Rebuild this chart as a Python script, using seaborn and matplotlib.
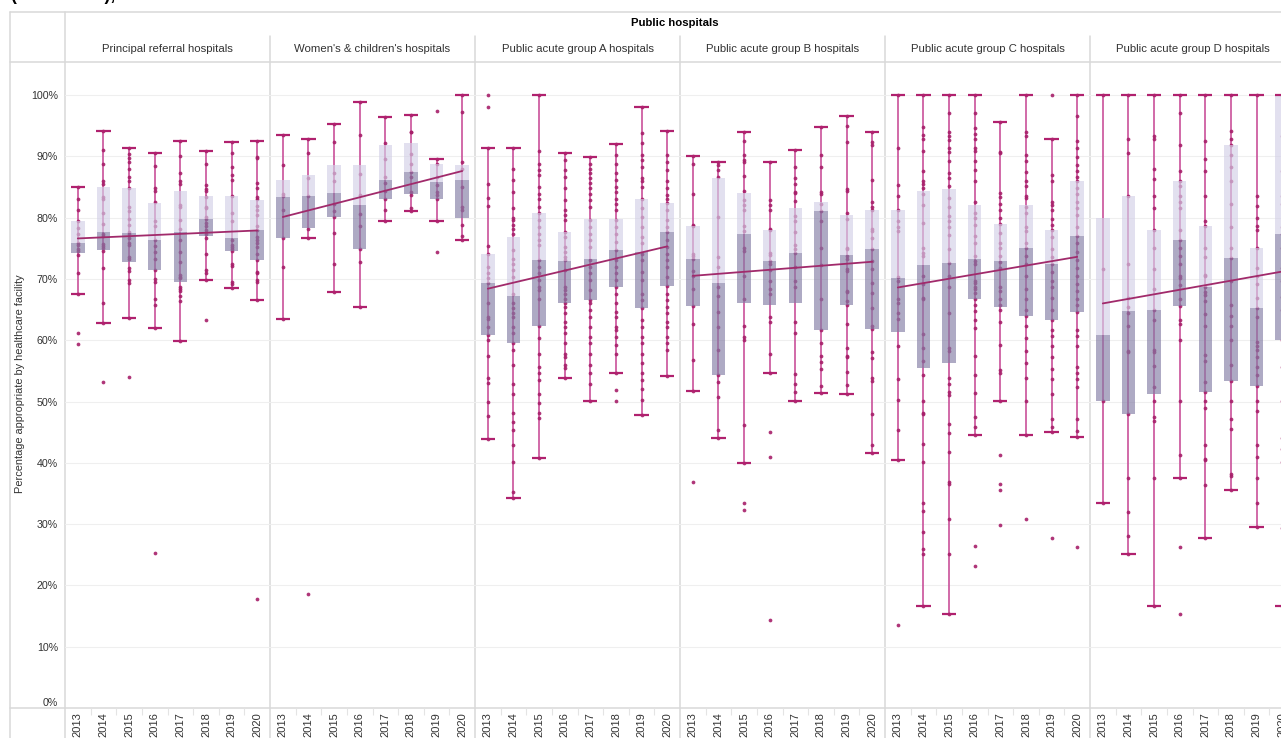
import numpy as np
import pandas as pd
import matplotlib
matplotlib.use("Agg")
import matplotlib.pyplot as plt
import seaborn as sns

# ---------------------------------------------------------------- data
years = ["2013", "2014", "2015", "2016", "2017", "2018", "2019", "2020"]
panels = [
    "Principal referral hospitals",
    "Women's & children's hospitals",
    "Public acute group A hospitals",
    "Public acute group B hospitals",
    "Public acute group C hospitals",
    "Public acute group D hospitals",
]

# box-plot statistics (percent), one row per peer group, one value per year
whisker_high = [
    [85.0, 94.2, 91.3, 90.5, 92.5, 90.9, 92.4, 92.5],
    [93.5, 92.8, 95.2, 98.9, 96.4, 96.8, 89.5, 100.0],
    [91.3, 91.3, 100.0, 90.6, 89.9, 92.0, 98.0, 94.2],
    [90.0, 89.0, 94.0, 89.0, 91.1, 94.8, 96.6, 94.0],
    [100.0, 100.0, 100.0, 100.0, 95.6, 100.0, 92.9, 100.0],
    [100.0, 100.0, 100.0, 100.0, 100.0, 100.0, 100.0, 100.0],
]
upper_quartile = [
    [79.4, 85.0, 84.8, 82.4, 84.3, 83.5, 83.6, 82.8],
    [86.2, 87.0, 88.5, 88.5, 91.9, 92.1, 88.7, 88.5],
    [74.0, 76.9, 80.8, 77.7, 79.8, 79.8, 83.1, 82.4],
    [78.6, 86.5, 84.0, 77.9, 81.5, 82.5, 80.4, 81.2],
    [81.2, 84.3, 84.6, 82.1, 79.0, 82.1, 78.0, 85.9],
    [80.0, 83.5, 77.9, 85.9, 78.7, 91.8, 75.1, 100.0],
]
median = [
    [75.9, 77.6, 77.5, 76.4, 77.7, 79.7, 76.6, 77.9],
    [83.3, 83.6, 84.0, 82.1, 86.1, 87.4, 85.8, 86.1],
    [69.3, 67.2, 73.1, 73.0, 73.2, 74.7, 74.4, 77.7],
    [73.2, 69.4, 77.3, 72.9, 74.2, 81.0, 73.9, 74.8],
    [70.1, 72.2, 72.6, 73.2, 73.0, 75.1, 72.4, 77.0],
    [60.8, 64.8, 65.0, 76.4, 68.7, 73.4, 65.2, 77.3],
]
lower_quartile = [
    [74.3, 74.7, 72.7, 71.5, 69.5, 77.0, 74.5, 73.1],
    [76.6, 78.3, 80.1, 74.8, 83.1, 83.9, 83.0, 80.0],
    [60.9, 59.6, 62.3, 66.0, 66.6, 68.6, 65.2, 68.8],
    [65.5, 54.4, 66.0, 65.7, 66.0, 61.6, 65.8, 61.9],
    [61.3, 55.5, 56.2, 66.8, 65.4, 64.0, 63.3, 64.6],
    [50.1, 47.9, 51.3, 65.6, 51.6, 53.3, 52.6, 60.1],
]
whisker_low = [
    [67.5, 62.8, 63.7, 62.0, 59.9, 69.8, 68.5, 66.6],
    [63.5, 76.7, 67.9, 65.4, 79.5, 81.0, 79.4, 76.3],
    [43.9, 34.3, 40.8, 53.8, 50.1, 54.7, 47.8, 54.2],
    [51.7, 44.1, 39.9, 54.6, 50.1, 51.4, 51.2, 41.6],
    [40.4, 16.7, 15.4, 44.5, 50.1, 44.5, 45.1, 44.2],
    [33.4, 25.1, 16.7, 37.5, 27.8, 35.5, 29.5, 16.7],
]

# linear trend, value at 2013 and at 2020
trend_start = [76.6, 80.1, 68.4, 70.5, 68.6, 66.0]
trend_end = [77.9, 87.6, 75.3, 72.8, 73.6, 71.2]

# individual hospitals, per year
points_principal = [
    [85.0, 83.0, 81.2, 79.4, 78.3, 77.4, 75.9, 75.5, 74.9, 74.5, 73.9, 70.9, 67.5, 61.2, 59.3],
    [94.2, 91.1, 88.8, 85.9, 85.5, 83.4, 83.1, 80.8, 79.0, 77.4, 77.0, 75.7, 75.4, 75.0, 74.6, 71.7, 66.1, 62.8, 53.2],
    [91.3, 90.4, 89.7, 89.0, 88.0, 86.7, 85.9, 84.8, 81.8, 81.0, 79.7, 78.8, 77.6, 77.4, 76.7, 75.9, 75.5, 73.6, 73.2, 71.7, 71.3, 69.8, 69.3, 63.7, 54.0],
    [90.5, 88.4, 84.8, 84.3, 82.5, 79.5, 78.7, 76.3, 75.4, 74.4, 73.2, 71.5, 70.0, 69.5, 66.8, 65.7, 62.0, 25.3],
    [92.5, 90.1, 87.3, 85.9, 85.5, 82.0, 81.8, 79.6, 78.1, 76.3, 74.4, 72.8, 70.7, 70.3, 70.1, 68.7, 68.3, 68.0, 67.2, 66.4, 59.9],
    [90.9, 88.8, 85.3, 84.7, 84.4, 83.4, 81.8, 81.5, 80.1, 79.7, 79.2, 78.6, 78.0, 77.4, 76.6, 74.1, 71.4, 71.0, 69.8, 63.3],
    [92.4, 90.5, 88.3, 86.9, 86.1, 83.6, 80.7, 79.5, 76.3, 75.5, 75.2, 74.9, 74.5, 72.5, 72.1, 69.5, 69.1, 68.5],
    [92.5, 89.9, 89.7, 85.6, 84.8, 83.4, 83.1, 81.9, 81.2, 80.4, 78.6, 77.9, 76.9, 76.3, 75.8, 75.2, 74.0, 73.1, 71.2, 70.9, 69.8, 69.5, 66.6, 17.8],
]
points_womens = [
    [93.5, 88.5, 83.9, 83.5, 81.3, 76.6, 72.0, 63.5],
    [92.8, 90.6, 86.4, 83.6, 78.2, 76.7, 18.6],
    [95.2, 92.4, 87.2, 85.9, 82.2, 81.0, 80.1, 77.5, 72.5, 67.9],
    [98.9, 93.5, 87.1, 83.7, 80.6, 78.7, 74.8, 72.8, 65.4],
    [96.4, 92.1, 89.6, 86.6, 85.6, 84.3, 83.0, 81.2, 79.5],
    [96.8, 94.0, 93.9, 90.3, 88.8, 87.5, 86.7, 84.1, 83.7, 81.5, 81.0],
    [97.4, 89.5, 88.7, 86.6, 85.3, 84.2, 83.7, 83.0, 79.4, 74.4],
    [100.0, 97.2, 89.0, 88.0, 85.0, 81.8, 81.2, 78.8, 77.0, 76.3],
]
points_group_a = [
    [100.0, 98.1, 91.3, 85.4, 83.2, 81.9, 75.4, 74.0, 72.0, 70.9, 70.1, 69.3, 66.0, 63.8, 63.4, 62.2,
     60.9, 60.0, 57.5, 53.8, 53.0, 50.0, 47.7, 43.9],
    [91.3, 88.0, 86.1, 84.2, 81.6, 79.9, 79.6, 78.8, 78.2, 77.4, 74.7, 73.3, 72.5, 71.4, 70.3, 67.6,
     66.0, 65.2, 64.4, 63.8, 62.2, 61.1, 59.5, 58.4, 55.9, 52.9, 51.3, 48.2, 46.7, 45.3, 42.9, 40.2, 35.2, 34.3],
    [100.0, 90.9, 88.8, 87.8, 87.0, 85.0, 83.9, 83.1, 81.8, 80.8, 79.6, 78.5, 77.4, 76.3, 75.5, 73.1,
     72.0, 70.9, 69.8, 68.7, 68.2, 66.8, 62.3, 60.3, 57.8, 55.6, 54.6, 53.5, 51.3, 49.7, 48.2, 47.3, 40.8],
    [90.6, 89.4, 87.8, 86.7, 84.8, 82.9, 81.2, 80.4, 79.6, 77.7, 76.9, 75.2, 74.4, 73.6, 73.1, 71.4,
     68.7, 68.2, 67.6, 66.8, 66.0, 65.4, 64.4, 63.0, 62.2, 61.1, 59.5, 57.8, 57.3, 55.9, 55.4, 53.8],
    [89.9, 88.8, 88.0, 87.2, 86.4, 85.6, 84.8, 83.9, 82.9, 81.8, 79.6, 78.5, 77.4, 76.3, 75.2, 73.1,
     72.0, 70.9, 69.8, 68.2, 66.6, 66.0, 64.9, 63.8, 62.2, 60.5, 59.5, 57.8, 55.9, 54.6, 52.9, 50.1],
    [92.0, 90.2, 88.8, 87.2, 86.1, 85.0, 84.2, 83.1, 82.3, 81.2, 79.6, 78.5, 77.4, 76.1, 74.7, 73.1,
     72.0, 70.9, 69.8, 68.6, 67.6, 66.0, 64.6, 63.8, 62.2, 61.6, 60.5, 59.2, 57.8, 54.7, 51.8, 50.1],
    [98.0, 93.8, 92.1, 90.2, 89.4, 88.3, 86.4, 85.9, 85.0, 83.1, 81.5, 80.1, 78.5, 76.9, 75.8, 74.1,
     73.1, 71.2, 69.8, 67.6, 66.5, 65.2, 63.3, 62.2, 60.5, 59.5, 57.8, 56.2, 54.6, 53.5, 52.1, 50.2, 47.8],
    [94.2, 90.2, 89.1, 87.8, 85.9, 84.8, 83.7, 83.1, 82.4, 81.2, 79.6, 78.5, 77.7, 76.3, 75.2, 74.1,
     73.1, 72.0, 70.3, 68.8, 67.6, 66.5, 65.4, 64.4, 63.0, 62.2, 60.5, 59.5, 58.4, 54.2],
]
points_group_b = [
    [90.0, 88.8, 83.9, 78.8, 78.6, 74.1, 73.8, 73.2, 71.3, 70.4, 68.3, 65.5, 62.6, 56.8, 51.7, 36.8],
    [89.0, 88.6, 87.8, 86.7, 80.1, 73.5, 71.9, 68.7, 67.2, 64.6, 62.1, 58.4, 54.4, 53.1, 50.8, 45.3, 44.1],
    [94.0, 92.5, 90.2, 89.4, 89.1, 86.8, 84.4, 82.9, 82.0, 81.3, 78.6, 77.8, 75.1, 74.6, 70.5, 66.7,
     62.3, 60.5, 60.1, 46.1, 39.9, 33.5, 32.3],
    [89.0, 82.9, 82.0, 81.2, 78.1, 77.9, 74.2, 73.9, 73.0, 72.4, 71.4, 69.7, 68.3, 67.5, 63.8, 62.9,
     57.8, 54.6, 45.1, 40.9, 14.3],
    [91.1, 88.2, 86.4, 85.4, 84.2, 84.0, 82.7, 80.2, 79.4, 77.6, 75.5, 74.8, 74.3, 72.0, 69.6, 68.7,
     62.9, 61.1, 54.5, 52.9, 51.6, 50.1],
    [94.8, 90.2, 88.2, 84.2, 83.9, 82.2, 81.0, 79.5, 75.1, 72.3, 66.8, 61.6, 59.6, 57.4, 56.4, 55.3, 52.5, 51.4],
    [96.6, 95.0, 92.4, 84.7, 84.4, 80.8, 79.8, 75.1, 74.8, 73.8, 73.2, 71.6, 71.3, 68.1, 67.9, 66.4,
     65.8, 62.6, 58.8, 57.5, 57.2, 54.8, 52.7, 51.2],
    [94.0, 92.4, 91.8, 86.2, 82.5, 81.7, 81.3, 78.1, 77.8, 76.6, 74.8, 72.9, 71.6, 69.3, 67.7, 65.2,
     62.3, 61.9, 58.1, 57.1, 53.9, 53.3, 47.9, 42.9, 41.6],
]
points_group_c = [
    [100.0, 91.4, 85.3, 83.5, 81.2, 79.5, 78.5, 77.8, 70.3, 69.7, 66.8, 66.0, 64.5, 63.4, 59.1, 53.6,
     50.2, 45.3, 40.4, 13.5],
    [100.0, 94.8, 93.4, 92.9, 90.8, 87.6, 85.9, 85.5, 84.9, 83.9, 82.0, 79.2, 75.1, 74.3, 73.8, 70.4,
     69.1, 66.9, 66.7, 61.0, 58.8, 56.6, 54.3, 50.1, 48.2, 47.9, 43.0, 40.1, 33.4, 32.1, 28.7, 26.0, 25.2, 16.7],
    [100.0, 97.0, 93.9, 93.3, 92.6, 91.3, 90.7, 89.2, 87.2, 86.5, 85.1, 83.2, 81.8, 80.2, 79.5, 78.5,
     77.1, 74.8, 72.6, 70.4, 68.7, 64.5, 58.8, 58.3, 53.9, 52.9, 51.6, 51.0, 46.3, 44.9, 41.8, 36.8,
     36.5, 30.9, 25.2, 15.4],
    [100.0, 97.0, 94.6, 93.6, 92.9, 91.3, 90.9, 89.2, 87.8, 85.9, 82.5, 80.8, 80.0, 78.8, 77.0, 75.9,
     73.8, 73.0, 72.4, 69.7, 69.4, 68.7, 68.3, 67.7, 66.8, 65.7, 64.7, 63.3, 62.0, 57.5, 54.3, 51.4,
     47.5, 45.8, 44.5, 26.4, 23.2],
    [95.6, 90.7, 90.6, 84.0, 83.3, 82.2, 81.2, 80.0, 79.0, 77.5, 75.8, 75.1, 73.8, 72.8, 71.8, 68.7,
     68.1, 66.7, 65.7, 65.0, 62.9, 59.2, 55.1, 54.6, 50.1, 41.3, 36.5, 35.5, 29.9],
    [100.0, 93.9, 93.3, 90.2, 89.2, 87.4, 85.9, 85.2, 83.5, 83.2, 81.8, 80.8, 78.5, 77.8, 75.8, 75.1,
     73.8, 72.4, 70.4, 68.4, 66.7, 65.0, 64.0, 62.3, 60.3, 58.2, 56.3, 53.9, 50.1, 44.5, 30.9],
    [100.0, 92.9, 86.9, 85.9, 82.5, 82.0, 81.2, 79.8, 78.8, 78.0, 76.8, 74.8, 73.6, 72.4, 71.1, 69.7,
     68.7, 66.9, 65.0, 63.3, 61.7, 60.7, 59.1, 57.2, 55.3, 53.6, 51.2, 47.2, 45.9, 45.1, 27.8],
    [100.0, 96.6, 92.5, 91.3, 89.9, 88.6, 87.6, 86.7, 85.9, 84.9, 83.9, 82.5, 81.5, 80.5, 78.5, 77.0,
     75.8, 74.4, 73.1, 71.8, 70.4, 69.1, 68.1, 66.7, 65.7, 64.6, 61.7, 60.7, 59.0, 55.6, 54.6, 53.6,
     52.3, 47.2, 45.2, 44.2, 26.3],
]
points_group_d = [
    [100.0, 71.6, 50.1, 33.4],
    [100.0, 92.9, 90.6, 83.5, 72.4, 66.9, 65.4, 64.4, 62.3, 58.3, 58.0, 47.9, 37.6, 31.9, 28.0, 25.1],
    [100.0, 93.3, 92.9, 87.9, 86.3, 83.5, 81.5, 77.9, 75.0, 71.6, 68.3, 65.0, 63.3, 58.4, 58.1, 55.8,
     52.4, 50.1, 47.4, 46.8, 37.6, 16.7],
    [100.0, 97.0, 91.8, 87.6, 85.9, 85.1, 83.5, 82.5, 81.5, 77.9, 76.4, 75.1, 73.8, 72.4, 70.4, 70.1,
     69.0, 66.8, 65.6, 63.3, 62.7, 60.1, 50.1, 41.3, 37.5, 26.2, 15.4],
    [100.0, 92.5, 89.6, 87.6, 83.5, 79.5, 78.7, 75.1, 73.5, 70.7, 70.4, 68.7, 67.8, 67.4, 66.4, 64.2,
     62.3, 57.6, 56.6, 53.1, 51.6, 50.1, 48.9, 42.9, 40.7, 40.4, 36.3, 27.8],
    [100.0, 94.2, 92.9, 91.8, 90.2, 88.2, 85.9, 82.2, 78.5, 75.1, 73.4, 69.7, 65.7, 64.0, 62.3, 60.1,
     55.9, 53.3, 50.1, 47.2, 45.5, 38.1, 37.8, 35.5],
    [100.0, 83.5, 81.9, 80.0, 78.6, 77.9, 75.0, 71.8, 70.4, 69.1, 66.9, 65.2, 63.8, 59.7, 59.0, 58.4,
     57.2, 55.6, 54.4, 52.6, 50.1, 48.4, 42.9, 40.9, 37.6, 33.5, 29.5],
    [100.0, 93.3, 87.6, 83.5, 82.2, 78.5, 77.3, 75.1, 71.8, 69.7, 67.0, 65.0, 60.1, 55.6, 50.1, 44.0,
     42.2, 40.1, 29.3, 16.7],
]
panel_points = [points_principal, points_womens, points_group_a,
                points_group_b, points_group_c, points_group_d]

y_ticks = list(range(0, 101, 10))

# ---------------------------------------------------------------- style
sns.set_theme(style="white")
plt.rcParams["font.family"] = ["Liberation Sans", "DejaVu Sans"]

MAGENTA = "#b0216e"
WHISKER = "#c9509a"
DOT = "#a61f69"
BOX_DARK = "#837da5"
BOX_LIGHT = "#d3d0e7"
TREND = "#a12a6b"
FRAME = "#d8d8d8"
GRID = "#efefef"
TEXT = "#333333"

W, H = 1281, 738
fig = plt.figure(figsize=(W / 100, H / 100), dpi=100)

# pixel-space canvas for the table frame and headers
bg = fig.add_axes([0, 0, 1, 1], zorder=0)
bg.set_xlim(0, W)
bg.set_ylim(H, 0)
bg.axis("off")

plot_top, plot_bottom = 62, 708
axis_left = 65
panel_w = 205
panel_lefts = [axis_left + i * panel_w for i in range(len(panels))]

lw_frame = 1.1
bg.plot([10, W], [12, 12], color=FRAME, lw=lw_frame)
bg.plot([10, 10], [12, H], color=FRAME, lw=lw_frame)
bg.plot([axis_left, axis_left], [12, H], color=FRAME, lw=lw_frame)
bg.plot([10, W], [plot_top, plot_top], color=FRAME, lw=lw_frame)
bg.plot([10, W], [plot_bottom, plot_bottom], color=FRAME, lw=lw_frame)
for x0 in panel_lefts[1:]:
    bg.plot([x0, x0], [36, H], color=FRAME, lw=lw_frame)

bg.text(10, 0.5, "(2013–2020),", fontsize=12.7, fontweight="bold",
        ha="left", va="baseline", color="black", clip_on=False)
bg.text((axis_left + W) / 2 + 2, 23.5, "Public hospitals", fontsize=8.2,
        fontweight="bold", ha="center", va="center", color="black")
for name, x0 in zip(panels, panel_lefts):
    bg.text(x0 + panel_w / 2, 49, name, fontsize=8.2, ha="center",
            va="center", color=TEXT)
bg.text(20, 384, "Percentage appropriate by healthcare facility", rotation=90,
        fontsize=7.9, ha="center", va="center", color=TEXT)

y_max = 100 + (95 - plot_top) * (100 / (plot_bottom - 95))
box_w = 0.53
cap_half = 0.28

for i, (name, x0) in enumerate(zip(panels, panel_lefts)):
    ax = fig.add_axes([x0 / W, (H - plot_bottom) / H, panel_w / W,
                       (plot_bottom - plot_top) / H], zorder=1)
    ax.patch.set_alpha(0)

    for v in y_ticks[1:]:
        ax.axhline(v, color=GRID, lw=0.8, zorder=0)

    rows = [(yr, v) for yr, vals in zip(years, panel_points[i]) for v in vals]
    df = pd.DataFrame(rows, columns=["year", "value"])
    sns.stripplot(data=df, x="year", y="value", order=years, jitter=False,
                  size=2.7, color=DOT, linewidth=0, alpha=0.9, zorder=2, ax=ax)

    for j in range(len(years)):
        lo, q1, md, q3, hi = (whisker_low[i][j], lower_quartile[i][j], median[i][j],
                              upper_quartile[i][j], whisker_high[i][j])
        ax.vlines(j, lo, hi, color=WHISKER, lw=1.2, zorder=1)
        ax.bar(j, md - q1, bottom=q1, width=box_w, color=BOX_DARK, alpha=0.65,
               linewidth=0, zorder=3)
        ax.bar(j, q3 - md, bottom=md, width=box_w, color=BOX_LIGHT, alpha=0.65,
               linewidth=0, zorder=3)
        ax.hlines([lo, hi], j - cap_half, j + cap_half, color=MAGENTA, lw=1.6, zorder=4)

    ax.plot([0, len(years) - 1], [trend_start[i], trend_end[i]], color=TREND,
            lw=1.3, zorder=5)

    ax.set_xlim(-0.5, len(years) - 0.5)
    ax.set_ylim(0, y_max)
    ax.set_xlabel("")
    ax.set_ylabel("")
    for s in ax.spines.values():
        s.set_visible(False)

    ax.set_xticks(range(len(years)))
    ax.set_xticklabels(years, rotation=90)
    ax.set_xticks(np.arange(0.5, len(years) - 1, 1), minor=True)
    ax.tick_params(axis="x", which="major", length=0, pad=3, labelsize=8,
                   labelcolor=TEXT)
    ax.tick_params(axis="x", which="minor", bottom=True, length=5, width=0.8,
                   color="#e4e4e4")

    ax.set_yticks(y_ticks)
    if i == 0:
        ax.set_yticklabels([f"{v}%" for v in y_ticks])
        ax.tick_params(axis="y", length=0, pad=5, labelsize=7.7, labelcolor=TEXT)
        ax.get_yticklabels()[0].set_va("bottom")
    else:
        ax.tick_params(axis="y", length=0, labelleft=False)
    ax.grid(False)

fig.savefig("out.png", dpi=100)
